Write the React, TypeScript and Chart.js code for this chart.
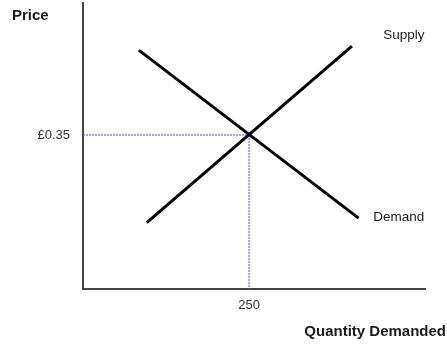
import React, { useEffect, useRef } from "react";
import { Chart, registerables } from "chart.js";

Chart.register(...registerables);

const demandQty = [84, 415];
const demandPrice = [0.543, 0.161];
const supplyQty = [96, 405];
const supplyPrice = [0.151, 0.552];
const eqQty = 250;
const eqPrice = 0.35;
const xTicks = [250];
const yTicks = [0.35];
const xMax = 515;
const yMax = 0.65;
const curveLabels = [
  { text: "Supply", x: 452, y: 0.577 },
  { text: "Demand", x: 437, y: 0.164 },
];
const yAxisTitle = "Price";
const xAxisTitle = "Quantity Demanded";

const FONT = "'Liberation Sans', Arial, sans-serif";

const textPlugin = {
  id: "econText",
  afterDraw(chart: any) {
    const ctx = chart.ctx;
    const xs = chart.scales.x;
    const ys = chart.scales.y;
    ctx.save();
    ctx.fillStyle = "#1a1a1a";
    ctx.textBaseline = "middle";
    ctx.textAlign = "left";
    ctx.font = `13.5px ${FONT}`;
    curveLabels.forEach((l) => {
      ctx.fillText(l.text, xs.getPixelForValue(l.x), ys.getPixelForValue(l.y));
    });
    ctx.font = `bold 15px ${FONT}`;
    ctx.textAlign = "left";
    ctx.fillText(yAxisTitle, 12, 16);
    ctx.textAlign = "right";
    ctx.fillText(xAxisTitle, chart.width - 1, 332);
    ctx.restore();
  },
};

export default function App() {
  const ref = useRef<HTMLCanvasElement>(null);
  useEffect(() => {
    if (!ref.current) return;
    const chart = new Chart(ref.current, {
      type: "line",
      data: {
        datasets: [
          {
            data: demandQty.map((q, i) => ({ x: q, y: demandPrice[i] })),
            borderColor: "#000",
            borderWidth: 3,
            pointRadius: 0,
          },
          {
            data: supplyQty.map((q, i) => ({ x: q, y: supplyPrice[i] })),
            borderColor: "#000",
            borderWidth: 3,
            pointRadius: 0,
          },
          {
            data: [
              { x: 0, y: eqPrice },
              { x: eqQty, y: eqPrice },
            ],
            borderColor: "#4444ff",
            borderWidth: 1,
            borderDash: [2, 1],
            pointRadius: 0,
          },
          {
            data: [
              { x: eqQty, y: eqPrice },
              { x: eqQty, y: 0 },
            ],
            borderColor: "#4444ff",
            borderWidth: 1,
            borderDash: [2, 1],
            pointRadius: 0,
          },
        ],
      },
      options: {
        animation: false,
        responsive: false,
        layout: { padding: { top: 3, right: 22, left: 0, bottom: 0 } },
        plugins: { legend: { display: false }, tooltip: { enabled: false } },
        scales: {
          x: {
            type: "linear",
            min: 0,
            max: xMax,
            grid: { display: false, drawTicks: false },
            border: { display: true, color: "#444", width: 2 },
            afterBuildTicks: (s: any) => {
              s.ticks = xTicks.map((v) => ({ value: v }));
            },
            afterFit: (s: any) => {
              s.height = 55;
              s.paddingLeft = 0;
              s.paddingRight = 0;
            },
            ticks: {
              padding: 9,
              color: "#333",
              font: { family: FONT, size: 13 },
              callback: (v: any) => String(v),
            },
          },
          y: {
            type: "linear",
            min: 0,
            max: yMax,
            grid: { display: false, drawTicks: false },
            border: { display: true, color: "#444", width: 2 },
            afterBuildTicks: (s: any) => {
              s.ticks = yTicks.map((v) => ({ value: v }));
            },
            afterFit: (s: any) => {
              s.width = 83;
              s.paddingTop = 0;
              s.paddingBottom = 0;
            },
            ticks: {
              padding: 13,
              color: "#333",
              font: { family: FONT, size: 13 },
              callback: (v: any) => "£" + Number(v).toFixed(2),
            },
          },
        },
      },
      plugins: [textPlugin],
    });
    return () => chart.destroy();
  }, []);
  return (
    <div style={{ position: "fixed", left: 0, top: 0, width: 447, height: 344, background: "#fff" }}>
      <canvas ref={ref} width={447} height={344} style={{ display: "block" }} />
    </div>
  );
}
